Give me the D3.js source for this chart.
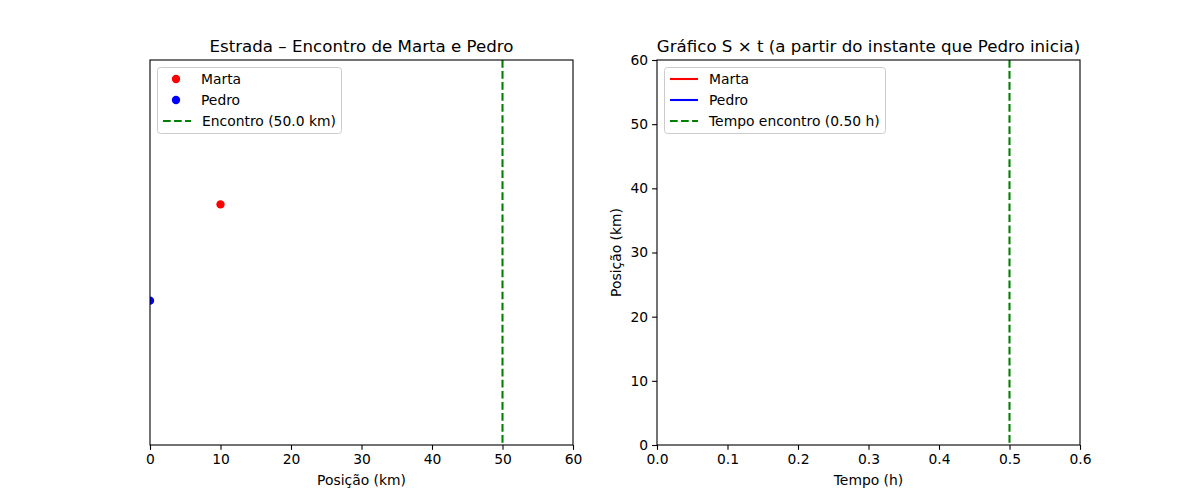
<!DOCTYPE html>
<html><head><meta charset="utf-8">
<script src="https://cdn.jsdelivr.net/npm/d3@7"></script>
<style>body{margin:0;background:#fff}svg{font-family:"DejaVu Sans",sans-serif}</style>
</head><body>
<svg id="c" width="1200" height="500"></svg>
<script>
// Data
const roadNames = ["Marta", "Pedro"];
const roadPositions = [10, 0];     // km
const roadLanes = [1, 0];          // vertical lane
const roadColors = ["red", "blue"];
const meetPosition = 50.0;         // km
const meetTime = 0.50;             // h
const roadTicks = [0, 10, 20, 30, 40, 50, 60];
const timeTicks = [0.0, 0.1, 0.2, 0.3, 0.4, 0.5, 0.6];
const posTicks = [0, 10, 20, 30, 40, 50, 60];
const stNames = ["Marta", "Pedro"];
const stColors = ["red", "blue"];
const stTimes = [];     // empty series (nothing drawn)
const stMarta = [];
const stPedro = [];

const svg = d3.select("#c");
const yTop = 60, yBot = 445;
const fs = "13.89px";
const dash = "7.7,3.33";

function frame(g, x0, x1) {
  g.append("rect").attr("x", x0).attr("y", yTop).attr("width", x1 - x0).attr("height", yBot - yTop)
    .attr("fill", "none").attr("stroke", "#000").attr("stroke-width", 1.1);
}
function styleAxis(a) {
  a.selectAll("path").remove();
  a.selectAll("line").attr("stroke", "#000").attr("stroke-width", 1.1);
  a.selectAll("text").attr("font-size", fs).attr("fill", "#000").attr("font-family", "DejaVu Sans");
}
function legend(g, x, y, w, items) {
  g.append("rect").attr("x", x + 0.5).attr("y", y + 0.5).attr("width", w).attr("height", 66)
    .attr("rx", 3).attr("fill", "#fff").attr("fill-opacity", 0.8).attr("stroke", "#ccc").attr("stroke-width", 1);
  items.forEach((it, i) => {
    const cy = y + 12 + i * 21;
    if (it.type === "dot") {
      g.append("circle").attr("cx", x + 19).attr("cy", cy).attr("r", 4.17).attr("fill", it.color);
    } else {
      g.append("line").attr("x1", x + 6).attr("x2", x + 34).attr("y1", cy).attr("y2", cy)
        .attr("stroke", it.color).attr("stroke-width", 2.08)
        .attr("stroke-dasharray", it.dash ? dash : null);
    }
    g.append("text").attr("x", x + (it.type === "dot" ? 44 : 45)).attr("y", cy + 5)
      .attr("font-size", fs).text(it.label);
  });
}

// ---- Left panel: road ----
const L = svg.append("g");
const xL = d3.scaleLinear().domain([0, 60]).range([150, 573]);
const yL = d3.scaleLinear().domain([-1.5, 2.5]).range([yBot, yTop]);
svg.append("clipPath").attr("id", "clipL").append("rect")
  .attr("x", 150).attr("y", yTop).attr("width", 423).attr("height", yBot - yTop);
const pl = L.append("g").attr("clip-path", "url(#clipL)");
pl.append("line").attr("x1", xL(meetPosition)).attr("x2", xL(meetPosition)).attr("y1", yTop).attr("y2", yBot)
  .attr("stroke", "green").attr("stroke-width", 2.08).attr("stroke-dasharray", dash);
pl.selectAll("circle").data(roadNames).join("circle")
  .attr("cx", (d, i) => xL(roadPositions[i])).attr("cy", (d, i) => yL(roadLanes[i]))
  .attr("r", 4.17).attr("fill", (d, i) => roadColors[i]);
frame(L, 150, 573);
const axL = L.append("g").attr("transform", `translate(0,${yBot})`)
  .call(d3.axisBottom(xL).tickValues(roadTicks).tickFormat(d3.format("d")).tickSize(4.86).tickPadding(4));
styleAxis(axL);
L.append("text").attr("x", 361.5).attr("y", 485).attr("text-anchor", "middle").attr("font-size", fs).text("Posição (km)");
L.append("text").attr("x", 361.5).attr("y", 52).attr("text-anchor", "middle").attr("font-size", "16.67px").text("Estrada – Encontro de Marta e Pedro");
legend(L, 157, 67, 184, [
  {type: "dot", color: roadColors[0], label: roadNames[0]},
  {type: "dot", color: roadColors[1], label: roadNames[1]},
  {type: "line", dash: true, color: "green", label: `Encontro (${meetPosition.toFixed(1)} km)`}
]);

// ---- Right panel: S x t ----
const R = svg.append("g");
const xR = d3.scaleLinear().domain([0, 0.6]).range([657, 1080]);
const yR = d3.scaleLinear().domain([0, 60]).range([yBot, yTop]);
svg.append("clipPath").attr("id", "clipR").append("rect")
  .attr("x", 657).attr("y", yTop).attr("width", 423).attr("height", yBot - yTop);
const pr = R.append("g").attr("clip-path", "url(#clipR)");
const line = d3.line().x((d, i) => xR(stTimes[i])).y(d => yR(d));
pr.append("path").datum(stMarta).attr("d", line).attr("fill", "none").attr("stroke", stColors[0]).attr("stroke-width", 2.08);
pr.append("path").datum(stPedro).attr("d", line).attr("fill", "none").attr("stroke", stColors[1]).attr("stroke-width", 2.08);
pr.append("line").attr("x1", xR(meetTime)).attr("x2", xR(meetTime)).attr("y1", yTop).attr("y2", yBot)
  .attr("stroke", "green").attr("stroke-width", 2.08).attr("stroke-dasharray", dash);
frame(R, 657, 1080);
const axRx = R.append("g").attr("transform", `translate(0,${yBot})`)
  .call(d3.axisBottom(xR).tickValues(timeTicks).tickFormat(d3.format(".1f")).tickSize(4.86).tickPadding(4));
styleAxis(axRx);
const axRy = R.append("g").attr("transform", `translate(657,0)`)
  .call(d3.axisLeft(yR).tickValues(posTicks).tickFormat(d3.format("d")).tickSize(4.86).tickPadding(4));
styleAxis(axRy);
R.append("text").attr("x", 868.5).attr("y", 485).attr("text-anchor", "middle").attr("font-size", fs).text("Tempo (h)");
R.append("text").attr("transform", `translate(621,252.5) rotate(-90)`).attr("text-anchor", "middle").attr("font-size", fs).text("Posição (km)");
R.append("text").attr("x", 868.5).attr("y", 52).attr("text-anchor", "middle").attr("font-size", "16.67px").text("Gráfico S × t (a partir do instante que Pedro inicia)");
legend(R, 664, 67, 221, [
  {type: "line", color: stColors[0], label: stNames[0]},
  {type: "line", color: stColors[1], label: stNames[1]},
  {type: "line", dash: true, color: "green", label: `Tempo encontro (${meetTime.toFixed(2)} h)`}
]);
</script>
</body></html>
